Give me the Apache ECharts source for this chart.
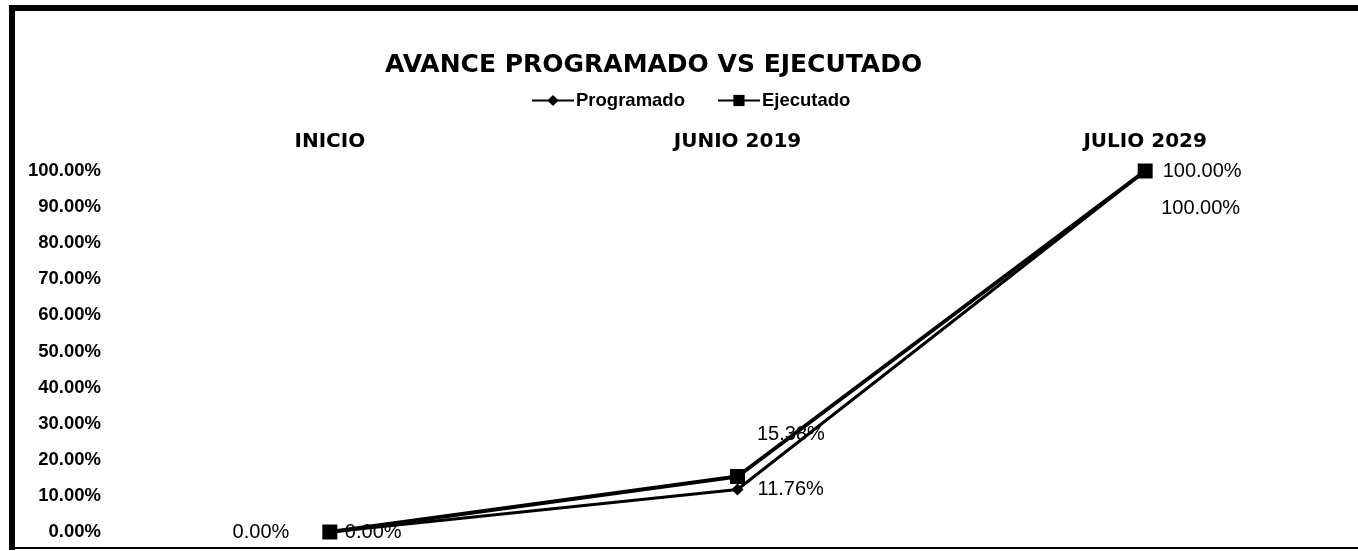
<!DOCTYPE html>
<html>
<head>
<meta charset="utf-8">
<script src="https://cdn.jsdelivr.net/npm/echarts@6/dist/echarts.min.js"></script>
<style>html,body{margin:0;padding:0;background:#fff}#c{width:1358px;height:551px}</style>
</head>
<body>
<div id="c"></div>
<script>
const categories = ['INICIO', 'JUNIO 2019', 'JULIO 2029'];
const programado = [0, 0.1176, 1];
const ejecutado = [0, 0.1538, 1];
const titleText = 'AVANCE PROGRAMADO VS EJECUTADO';

const FONT = '"Liberation Sans", Arial, sans-serif';
const WIDE = '"DejaVu Sans", "Liberation Sans", sans-serif';
const pct = v => (v * 100).toFixed(2) + '%';

const progLabelCfg = [
  { position: 'right', distance: 9, offset: [0, 0] },
  { position: 'right', distance: 14, offset: [0, 0] },
  { position: 'right', distance: 10, offset: [0, 37] }
];
const ejecLabelCfg = [
  { position: 'left', distance: 33, offset: [0, 0] },
  { position: 'right', distance: 12, offset: [0, -42] },
  { position: 'right', distance: 10, offset: [0, 0] }
];

const chart = echarts.init(document.getElementById('c'), null, { renderer: 'canvas' });
chart.setOption({
  backgroundColor: '#fff',
  animation: false,
  title: {
    text: titleText,
    left: 380,
    top: 48,
    textStyle: { fontFamily: WIDE, fontSize: 25, fontWeight: 'bold', color: '#000' }
  },
  legend: {
    top: 86,
    left: 526,
    itemGap: 32,
    itemWidth: 42,
    itemHeight: 14,
    textStyle: { fontFamily: FONT, fontSize: 18.5, fontWeight: 'bold', color: '#000', padding: [0, 0, 0, -3] },
    data: ['Programado', 'Ejecutado']
  },
  grid: { left: 126, right: 9, top: 171, bottom: 19 },
  xAxis: {
    type: 'category',
    position: 'top',
    data: categories,
    boundaryGap: true,
    axisLine: { show: false },
    axisTick: { show: false },
    axisLabel: { margin: 19, color: '#000', fontFamily: WIDE, fontSize: 20, fontWeight: 'bold' }
  },
  yAxis: {
    type: 'value',
    min: 0,
    max: 1,
    interval: 0.1,
    axisLine: { show: false },
    axisTick: { show: false },
    splitLine: { show: false },
    axisLabel: { margin: 25, color: '#000', fontFamily: FONT, fontSize: 18.5, fontWeight: 'bold', formatter: v => pct(v) }
  },
  series: [
    {
      name: 'Programado',
      type: 'line',
      symbol: 'diamond',
      symbolSize: 12,
      lineStyle: { color: '#000', width: 3 },
      itemStyle: { color: '#000' },
      data: programado.map((v, i) => ({
        value: v,
        label: { show: true, formatter: p => pct(p.value), color: '#000', fontFamily: FONT, fontSize: 20, ...progLabelCfg[i] }
      })),
      z: 2
    },
    {
      name: 'Ejecutado',
      type: 'line',
      symbol: 'rect',
      symbolSize: 15,
      lineStyle: { color: '#000', width: 4 },
      itemStyle: { color: '#000' },
      data: ejecutado.map((v, i) => ({
        value: v,
        label: { show: true, formatter: p => pct(p.value), color: '#000', fontFamily: FONT, fontSize: 20, ...ejecLabelCfg[i] }
      })),
      z: 3
    }
  ],
  graphic: [
    { type: 'rect', shape: { x: 9, y: 5, width: 1349, height: 6 }, style: { fill: '#000' } },
    { type: 'rect', shape: { x: 9, y: 5, width: 6, height: 545 }, style: { fill: '#000' } },
    { type: 'rect', shape: { x: 9, y: 547, width: 1349, height: 2 }, style: { fill: '#000' } }
  ]
});
</script>
</body>
</html>
